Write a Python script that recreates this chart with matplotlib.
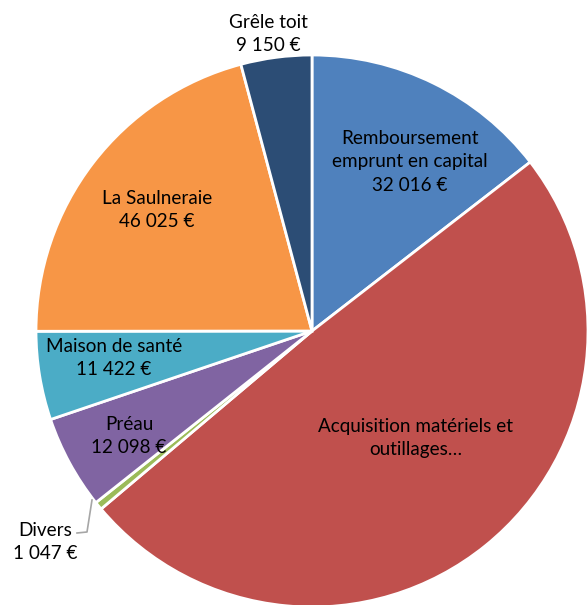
import matplotlib.pyplot as plt

# slices, clockwise from the top
categories = ["Remboursement\nemprunt en capital", "Acquisition matériels et\noutillages…",
              "Divers", "Préau", "Maison de santé", "La Saulneraie", "Grêle toit"]
values = [32016, 108800, 1047, 12098, 11422, 46025, 9150]
value_labels = ["32 016 €", None, "1 047 €", "12 098 €", "11 422 €", "46 025 €", "9 150 €"]
colors = ["#4F81BD", "#C0504D", "#9BBB59", "#8064A2", "#4BACC6", "#F79646", "#2C4D75"]

plt.rcParams['font.family'] = ['Lato', 'DejaVu Sans']

fig = plt.figure(figsize=(5.87, 6.05), dpi=100)
ax = fig.add_axes([0, 0, 1, 1])

R = 276.0
cx, cy = 312, 331

wedges, _ = ax.pie(values, colors=colors, startangle=90, counterclock=False,
                   radius=1.0, wedgeprops=dict(edgecolor="white", linewidth=2))

ax.set_xlim(-cx / R, (587 - cx) / R)
ax.set_ylim((cy - 605) / R, cy / R)
ax.set_aspect("equal")
ax.axis("off")


def px(x, y):
    return (x - cx) / R, (cy - y) / R


# label centres in pixels of the reference
label_pos = [(410, 162), (416, 438), (45, 542), (129, 436), (114, 358), (157, 210), (268, 34)]

for name, val, (x, y) in zip(categories, value_labels, label_pos):
    txt = name if val is None else name + "\n" + val
    ax.text(*px(x, y), txt, ha="center", va="center", fontsize=13.6, color="black", linespacing=1.45)

# leader line for Divers
pts = [px(92, 500), px(87, 532), px(77, 533)]
ax.plot([p[0] for p in pts], [p[1] for p in pts], color="#A6A6A6", linewidth=1.2)

fig.savefig("out.png", dpi=100)
